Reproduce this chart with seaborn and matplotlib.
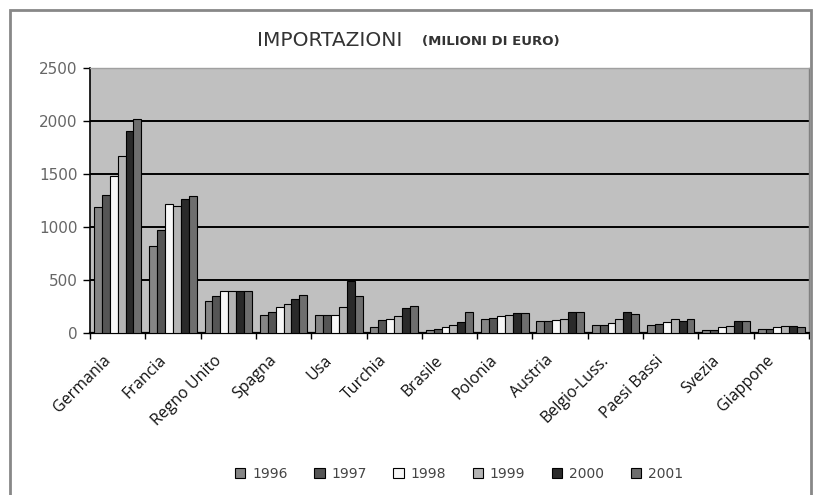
import matplotlib
matplotlib.use('Agg')
import matplotlib.pyplot as plt
import matplotlib.transforms as mtransforms
from matplotlib.patches import Rectangle, Patch
import seaborn as sns
import pandas as pd

# ---- data (milioni di euro) ----
countries = ['Germania', 'Francia', 'Regno Unito', 'Spagna', 'Usa', 'Turchia',
             'Brasile', 'Polonia', 'Austria', 'Belgio-Luss.', 'Paesi Bassi',
             'Svezia', 'Giappone']
years = ['1996', '1997', '1998', '1999', '2000', '2001']
v1996 = [1185, 820, 300, 170, 170, 60, 25, 135, 110, 80, 80, 25, 35]
v1997 = [1300, 975, 350, 195, 170, 120, 40, 145, 110, 80, 85, 25, 40]
v1998 = [1485, 1215, 395, 250, 170, 135, 60, 160, 120, 90, 100, 60, 60]
v1999 = [1670, 1200, 395, 275, 250, 165, 80, 170, 130, 130, 130, 65, 65]
v2000 = [1905, 1265, 395, 325, 490, 240, 100, 190, 195, 195, 115, 110, 65]
v2001 = [2020, 1290, 395, 355, 350, 255, 200, 190, 195, 175, 130, 110, 60]
yticks = [0, 500, 1000, 1500, 2000, 2500]
colors = ['#858585', '#555555', '#f7f7f7', '#b4b4b4', '#2a2a2a', '#6e6e6e']

series = [v1996, v1997, v1998, v1999, v2000, v2001]
rows = []
for y, vals in zip(years, series):
    for c, v in zip(countries, vals):
        rows.append({'Paese': c, 'Anno': y, 'Valore': v})
df = pd.DataFrame(rows)

sns.set_theme(style='white')
plt.rcParams['font.family'] = ['DejaVu Sans']

W, H = 814, 495
fig = plt.figure(figsize=(W / 100, H / 100), dpi=100)
fig.patch.set_facecolor('white')
ax = fig.add_axes([90 / W, (H - 333) / H, (809 - 90) / W, (333 - 68) / H])
ax.set_facecolor('#c0c0c0')

sns.barplot(data=df, x='Paese', y='Valore', hue='Anno', order=countries,
            hue_order=years, palette=colors, width=6 / 7, saturation=1,
            edgecolor='black', linewidth=0.8, errorbar=None, legend=False,
            ax=ax, zorder=3)

for yv in yticks[1:-1]:
    ax.axhline(yv, color='black', lw=1.4, zorder=1)

ax.set_xlim(-0.5, len(countries) - 0.5)
ax.set_ylim(0, 2500)
ax.set_yticks(yticks)
ax.set_yticklabels([str(t) for t in yticks], fontsize=11, color='#666666')
ax.set_xlabel('')
ax.set_ylabel('')

ax.set_xticks(range(len(countries)))
ax.set_xticklabels(countries, rotation=45, ha='right', va='top',
                   rotation_mode='anchor', fontfamily='Open Sans',
                   fontsize=11.5, color='#111111')
ax.set_xticks([i - 0.5 for i in range(len(countries) + 1)], minor=True)
ax.tick_params(axis='x', which='major', length=0, pad=14)
ax.tick_params(axis='x', which='minor', length=4, width=1, color='black',
               direction='out', bottom=True)
ax.tick_params(axis='y', which='major', length=5, width=1, color='black',
               direction='out', left=True, pad=4)
off = mtransforms.ScaledTranslation(-15 / 100, 0, fig.dpi_scale_trans)
for lbl in ax.get_xticklabels():
    lbl.set_transform(lbl.get_transform() + off)

ax.spines['left'].set_color('black')
ax.spines['left'].set_linewidth(1.2)
ax.spines['bottom'].set_color('black')
ax.spines['bottom'].set_linewidth(1.6)
ax.spines['top'].set_color('#a0a0a0')
ax.spines['top'].set_linewidth(1)
ax.spines['right'].set_color('#808080')
ax.spines['right'].set_linewidth(1)

# title
fig.text(257 / W, 1 - 40 / H, 'IMPORTAZIONI', fontsize=14.5, color='#333333',
         ha='left', va='center')
fig.text(422 / W, 1 - 41 / H, '(MILIONI DI EURO)', fontsize=9.5,
         fontweight='bold', color='#333333', ha='left', va='center')

# legend
handles = [Patch(facecolor=c, edgecolor='black', linewidth=0.8) for c in colors]
fig.legend(handles, years, loc='center', bbox_to_anchor=(459 / W, (H - 474) / H),
           ncol=6, frameon=False, fontsize=10, handlelength=0.75,
           handleheight=0.75, handletextpad=0.5, columnspacing=1.9,
           labelcolor='#444444')

# outer frame
fig.patches.append(Rectangle((10 / W, -0.02), (811 - 10) / W, (H - 10) / H + 0.02,
                             transform=fig.transFigure, fill=False,
                             edgecolor='#888888', linewidth=2))

fig.savefig('out.png', dpi=100)
